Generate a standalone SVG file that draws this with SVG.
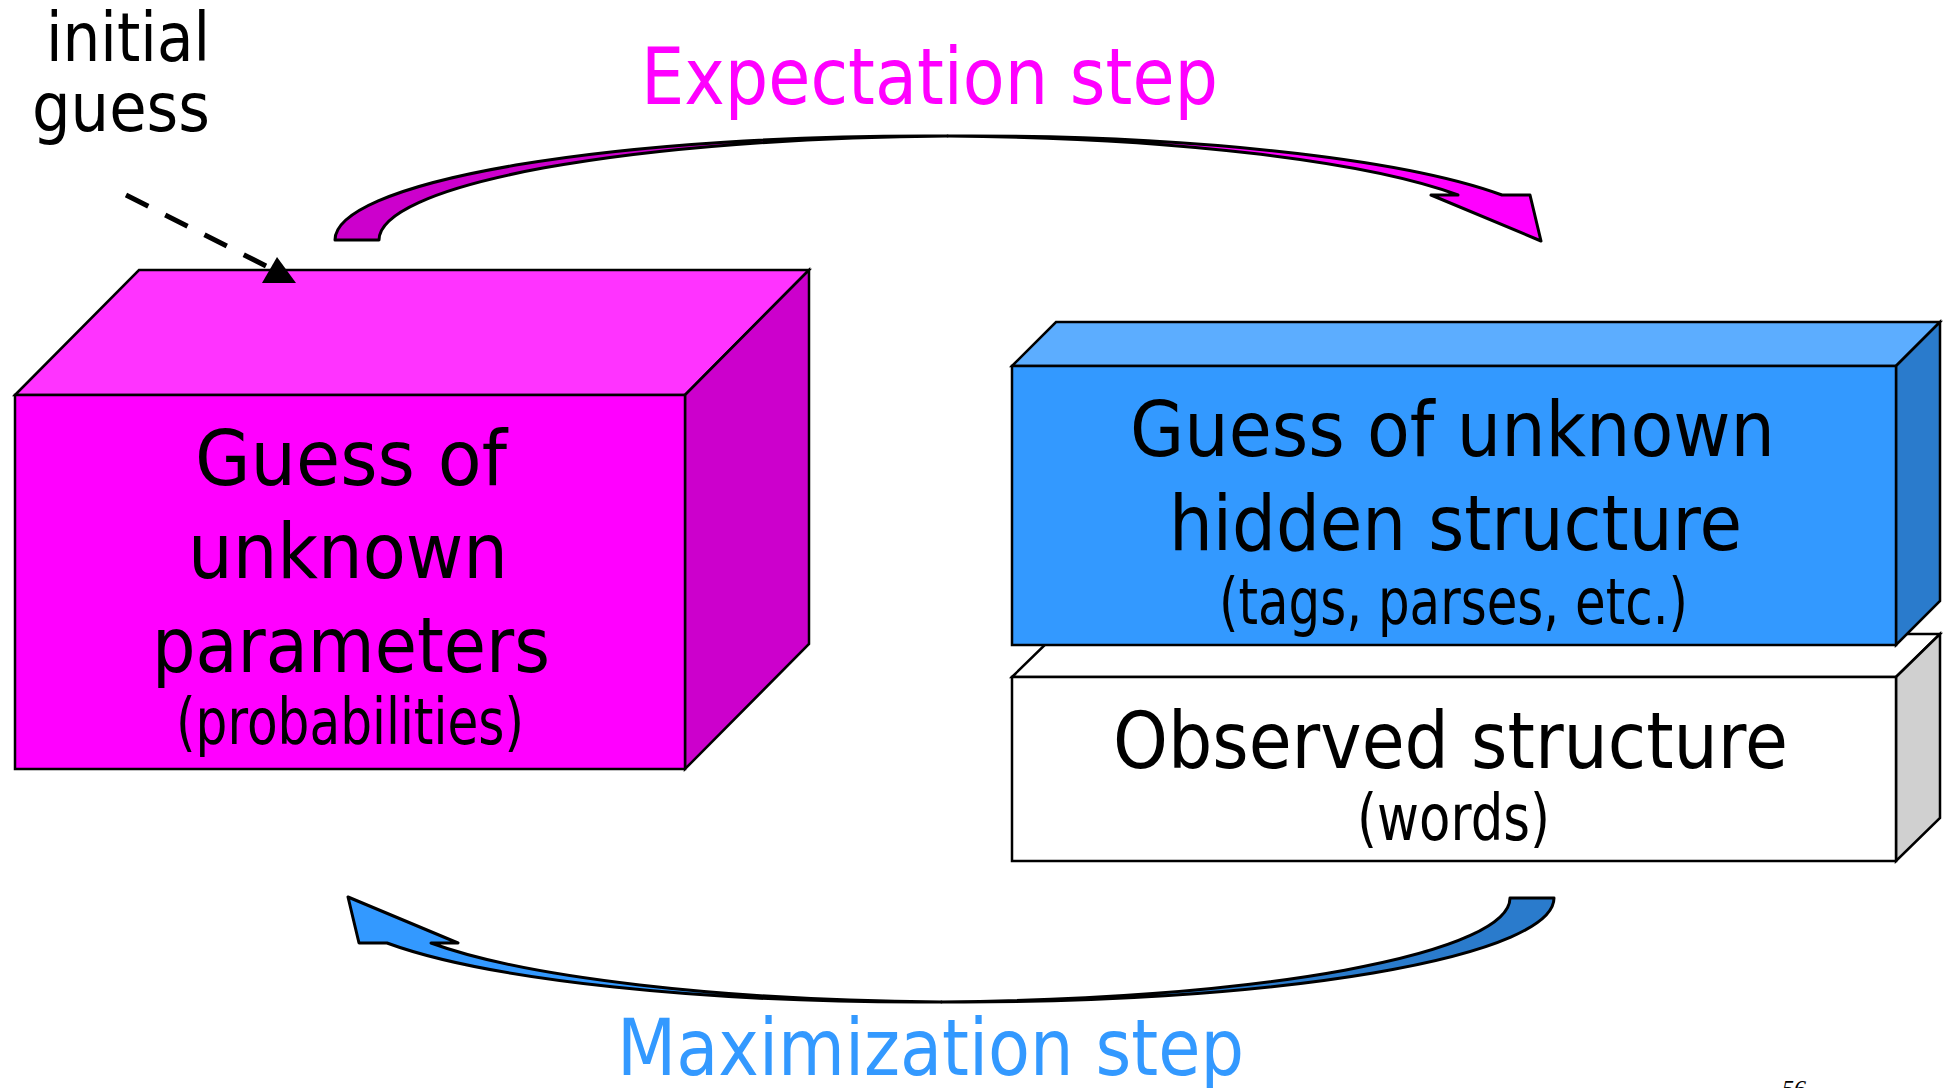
<svg xmlns="http://www.w3.org/2000/svg" width="1946" height="1088" viewBox="0 0 1946 1088">
  <style>
    .lbl { font-family: "DejaVu Sans", Verdana, sans-serif; fill: #000; }
    .big { font-size: 77px; }
    .sub { font-size: 64px; }
    .edge { stroke: #000; stroke-width: 2.5; stroke-linejoin: miter; }
    .band { stroke: #000; stroke-width: 3; stroke-linejoin: round; }
  </style>
  <defs>
    <!-- curved ribbon arrow: back (dark) half and front (bright) half with head -->
    <path id="ribbon-back" d="M335,240 A590.6,104 0 0 1 947.6,136.07 A590.6,104 0 0 0 379,240 Z"/>
    <path id="ribbon-front" d="M947.6,136.07 A590.6,104 0 0 1 1502,195 L1530,195 L1541,241 L1431,195 L1458,195 A590.6,104 0 0 0 947.6,136.07 Z"/>
  </defs>

  <rect width="1946" height="1088" fill="#fff"/>

  <!-- labels above and below -->
  <text class="lbl" x="46" y="61" font-size="68" textLength="164" lengthAdjust="spacingAndGlyphs">initial</text>
  <text class="lbl" x="32" y="131" font-size="68" textLength="178" lengthAdjust="spacingAndGlyphs">guess</text>
  <text class="lbl" x="641" y="104" font-size="79" style="fill:#FF00FF" textLength="577" lengthAdjust="spacingAndGlyphs">Expectation step</text>
  <text class="lbl" x="617" y="1075" font-size="79" style="fill:#3399FF" textLength="627" lengthAdjust="spacingAndGlyphs">Maximization step</text>
  <text x="1782" y="1096" font-family="Liberation Serif, serif" font-style="italic" font-size="24" fill="#000">56</text>

  <!-- parameters cube -->
  <g id="node-parameters">
    <polygon class="edge" fill="#FF33FF" points="15,395 139,270 809,270 685,395"/>
    <polygon class="edge" fill="#CC00CC" points="685,395 809,270 809,644 685,769"/>
    <rect class="edge" fill="#FF00FF" x="15" y="395" width="670" height="374"/>
    <text class="lbl big" x="195" y="485" textLength="312" lengthAdjust="spacingAndGlyphs">Guess of</text>
    <text class="lbl big" x="188" y="578" textLength="320" lengthAdjust="spacingAndGlyphs">unknown</text>
    <text class="lbl big" x="152" y="672" textLength="398" lengthAdjust="spacingAndGlyphs">parameters</text>
    <text class="lbl sub" x="176" y="744" textLength="348" lengthAdjust="spacingAndGlyphs">(probabilities)</text>
  </g>

  <!-- observed structure slab -->
  <g id="node-observed">
    <polygon class="edge" fill="#FFFFFF" points="1012,677 1056,634 1940,634 1896,677"/>
    <polygon class="edge" fill="#D0D0D0" points="1896,677 1940,634 1940,818 1896,861"/>
    <rect class="edge" fill="#FFFFFF" x="1012" y="677" width="884" height="184"/>
    <text class="lbl" x="1113" y="768" font-size="78" textLength="675" lengthAdjust="spacingAndGlyphs">Observed structure</text>
    <text class="lbl sub" x="1357" y="840" textLength="193" lengthAdjust="spacingAndGlyphs">(words)</text>
  </g>

  <!-- hidden structure slab -->
  <g id="node-hidden">
    <polygon class="edge" fill="#5CADFF" points="1012,366 1056,322 1940,322 1896,366"/>
    <polygon class="edge" fill="#2A7BCC" points="1896,366 1940,322 1940,601 1896,645"/>
    <rect class="edge" fill="#3399FF" x="1012" y="366" width="884" height="279"/>
    <text class="lbl big" x="1130" y="456" textLength="645" lengthAdjust="spacingAndGlyphs">Guess of unknown</text>
    <text class="lbl big" x="1169" y="550" textLength="573" lengthAdjust="spacingAndGlyphs">hidden structure</text>
    <text class="lbl sub" x="1219" y="624" textLength="469" lengthAdjust="spacingAndGlyphs">(tags, parses, etc.)</text>
  </g>

  <g id="connectors">
    <!-- initial guess pointer -->
    <line x1="126" y1="195" x2="268" y2="267" stroke="#000" stroke-width="5" stroke-dasharray="25 19"/>
    <polygon points="277,257 262,283 296,283" fill="#000"/>

    <!-- expectation step arrow -->
    <g id="arrow-expectation">
      <use href="#ribbon-back" class="band" fill="#CC00CC"/>
      <use href="#ribbon-front" class="band" fill="#FF00FF"/>
    </g>

    <!-- maximization step arrow: same ribbon turned half a revolution -->
    <g id="arrow-maximization" transform="rotate(180 944.5 569)">
      <use href="#ribbon-back" class="band" fill="#2A7BCC"/>
      <use href="#ribbon-front" class="band" fill="#3399FF"/>
    </g>
  </g>
</svg>
